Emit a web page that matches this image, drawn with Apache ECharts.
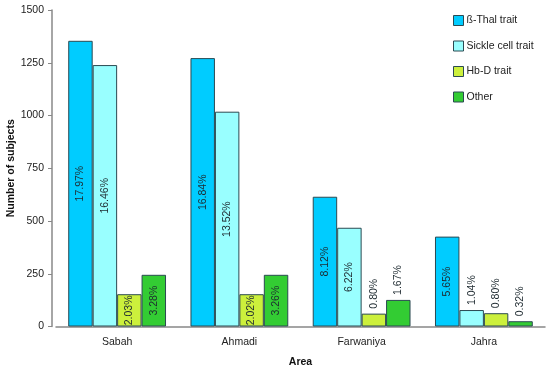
<!DOCTYPE html>
<html>
<head>
<meta charset="utf-8">
<script src="https://cdn.jsdelivr.net/npm/echarts@6/dist/echarts.min.js"></script>
<style>html,body{margin:0;padding:0;background:#fff;}#c{width:550px;height:369px;}</style>
</head>
<body>
<div id="c"></div>
<script>
var categories = ['Sabah', 'Ahmadi', 'Farwaniya', 'Jahra'];
var seriesNames = ['ß-Thal trait', 'Sickle cell trait', 'Hb-D trait', 'Other'];
var thalValues = [1354, 1272, 615, 426];
var sickleValues = [1239, 1018, 468, 78];
var hbdValues = [153, 153, 61, 63];
var otherValues = [245, 245, 126, 25];
var thalPct = ['17.97%', '16.84%', '8.12%', '5.65%'];
var sicklePct = ['16.46%', '13.52%', '6.22%', '1.04%'];
var hbdPct = ['2.03%', '2.02%', '0.80%', '0.80%'];
var otherPct = ['3.28%', '3.26%', '1.67%', '0.32%'];
var yTicks = [0, 250, 500, 750, 1000, 1250, 1500];

var colors = ['#00CCFF', '#99FFFF', '#CCF03C', '#33CC33'];
var values = [thalValues, sickleValues, hbdValues, otherValues];
var pcts = [thalPct, sicklePct, hbdPct, otherPct];
var FONT = '"Liberation Sans", Arial, sans-serif';
var FS = 10.5;

function buildData(vals, labels) {
  return vals.map(function (v, i) {
    var outside = v < 140;
    return {
      value: v,
      label: {
        formatter: labels[i],
        position: outside ? 'top' : 'inside',
        rotate: 90,
        align: outside ? 'left' : 'center',
        verticalAlign: 'middle',
        distance: 5
      }
    };
  });
}

var series = seriesNames.map(function (name, k) {
  return {
    name: name,
    type: 'bar',
    barGap: '0%',
    barCategoryGap: '20%',
    itemStyle: { color: colors[k], borderColor: '#2b4a52', borderWidth: 1 },
    label: { show: true, color: '#1e2a30', fontSize: FS, fontFamily: FONT },
    data: buildData(values[k], pcts[k])
  };
});

var chart = echarts.init(document.getElementById('c'));
chart.setOption({
  animation: false,
  textStyle: { fontFamily: FONT },
  grid: { left: 56, right: 5, top: 10, bottom: 42.5, containLabel: false, outerBoundsMode: 'none' },
  legend: {
    orient: 'vertical',
    left: 448,
    top: 10,
    itemWidth: 10,
    itemHeight: 10,
    itemGap: 14.5,
    icon: 'rect',
    itemStyle: { borderColor: '#2b4a52', borderWidth: 1 },
    textStyle: { fontSize: FS, color: '#222', fontFamily: FONT, padding: [0, 0, 0, -2] },
    data: seriesNames
  },
  xAxis: {
    type: 'category',
    data: categories,
    name: 'Area',
    nameLocation: 'middle',
    nameGap: 30,
    nameMoveOverlap: false,
    nameTextStyle: { fontWeight: 'bold', fontSize: FS, color: '#111', fontFamily: FONT },
    axisLine: { lineStyle: { color: '#888', width: 1.5 } },
    axisTick: { show: false },
    axisLabel: { fontSize: FS, color: '#222', margin: 10, fontFamily: FONT }
  },
  yAxis: {
    type: 'value',
    min: 0,
    max: 1500,
    interval: 250,
    offset: 4,
    name: 'Number of subjects',
    nameLocation: 'middle',
    nameGap: 35,
    nameMoveOverlap: false,
    nameTextStyle: { fontWeight: 'bold', fontSize: FS, color: '#111', fontFamily: FONT },
    axisLine: { show: true, onZero: false, lineStyle: { color: '#888', width: 1.5 } },
    axisTick: { show: true, length: 4, lineStyle: { color: '#888' } },
    splitLine: { show: false },
    axisLabel: {
      fontSize: FS, color: '#222', margin: 8, fontFamily: FONT,
      formatter: function (v) { return yTicks.indexOf(v) >= 0 ? String(v) : ''; }
    }
  },
  series: series
});
</script>
</body>
</html>
